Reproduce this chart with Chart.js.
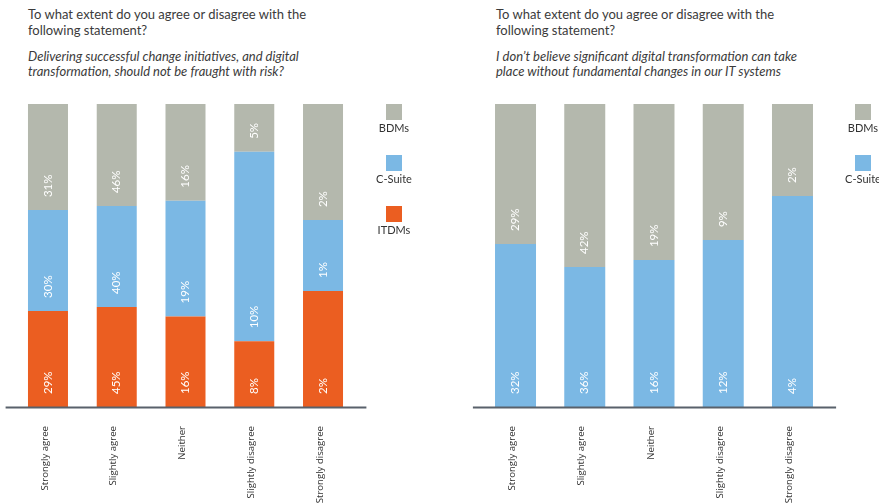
<!DOCTYPE html>
<html>
<head>
<meta charset="utf-8">
<script src="https://cdn.jsdelivr.net/npm/chart.js@4.4.1/dist/chart.umd.min.js"></script>
<style>
body{margin:0;width:879px;height:504px;overflow:hidden;background:#fff;position:relative;font-family:Lato,sans-serif;color:#3b3b3b}
.q{position:absolute;top:7px;font-size:13px;line-height:15.5px;white-space:nowrap}
.q p{margin:0}
.q p.s{margin-top:10.5px;font-style:italic}
canvas{position:absolute;top:0}
.sq{position:absolute;width:16px;height:16px}
.lt{position:absolute;width:60px;text-align:center;font-size:11px;line-height:13px;color:#333}
</style>
</head>
<body>
<div class="q" style="left:28px">
  <p>To what extent do you agree or disagree with the<br>following statement?</p>
  <p class="s">Delivering successful change initiatives, and digital<br>transformation, should not be fraught with risk?</p>
</div>
<div class="q" style="left:496px">
  <p>To what extent do you agree or disagree with the<br>following statement?</p>
  <p class="s">I don’t believe significant digital transformation can take<br>place without fundamental changes in our IT systems</p>
</div>
<canvas id="left" width="440" height="504" style="left:0"></canvas>
<canvas id="right" width="439" height="504" style="left:440px"></canvas>
<div id="legends"></div>
<script>
const categories = ['Strongly agree', 'Slightly agree', 'Neither', 'Slightly disagree', 'Strongly disagree']

// left chart: share of bar height (100% stacked) and printed labels
const leftItdms = [31.7, 33.0, 29.9, 21.7, 38.3]
const leftCsuite = [33.3, 33.3, 38.2, 62.5, 23.4]
const leftBdms = [35.0, 33.7, 31.9, 15.8, 38.3]
const leftItdmsLabels = [29, 45, 16, 8, 2]
const leftCsuiteLabels = [30, 40, 19, 10, 1]
const leftBdmsLabels = [31, 46, 16, 5, 2]

// right chart
const rightCsuite = [53.8, 46.2, 48.5, 55.1, 69.6]
const rightBdms = [46.2, 53.8, 51.5, 44.9, 30.4]
const rightCsuiteLabels = [32, 36, 16, 12, 4]
const rightBdmsLabels = [29, 42, 19, 9, 2]

const gray = '#b4b8ad'
const blue = '#7bb8e4'
const orange = '#eb5e21'

const segLabels = {
  id: 'segLabels',
  afterDatasetsDraw(chart) {
    const ctx = chart.ctx
    ctx.save()
    ctx.font = '11.5px Lato'
    ctx.fillStyle = '#fff'
    ctx.textAlign = 'left'
    ctx.textBaseline = 'middle'
    chart.data.datasets.forEach((ds, i) => {
      chart.getDatasetMeta(i).data.forEach((bar, j) => {
        ctx.save()
        ctx.translate(bar.x, bar.base - 13)
        ctx.rotate(-Math.PI / 2)
        ctx.fillText(ds.labels[j] + '%', 0, 0)
        ctx.restore()
      })
    })
    // axis line
    const a = chart.chartArea
    ctx.strokeStyle = '#59616b'
    ctx.lineWidth = 2
    ctx.beginPath()
    ctx.moveTo(a.left - 8, a.bottom + 0.5)
    ctx.lineTo(a.right + 9, a.bottom + 0.5)
    ctx.stroke()
    ctx.restore()
  }
}

function makeChart(id, datasets, padLeft, padRight, barPct) {
  new Chart(document.getElementById(id), {
    type: 'bar',
    data: { labels: categories, datasets: datasets },
    options: {
      responsive: false,
      animation: false,
      layout: { padding: { top: 104, left: padLeft, right: padRight, bottom: 0 } },
      datasets: { bar: { categoryPercentage: 1, barPercentage: barPct } },
      plugins: { legend: { display: false }, tooltip: { enabled: false } },
      scales: {
        x: {
          stacked: true,
          grid: { display: false },
          border: { display: false },
          ticks: {
            minRotation: 90, maxRotation: 90, padding: 11, autoSkip: false, labelOffset: -3,
            color: '#333', font: { family: 'Open Sans', size: 9.6 }
          },
          afterFit(s) { s.height = 97 }
        },
        y: { stacked: true, min: 0, max: 100, display: false }
      }
    },
    plugins: [segLabels]
  })
}

makeChart('left', [
  { label: 'ITDMs', data: leftItdms, labels: leftItdmsLabels, backgroundColor: orange },
  { label: 'C-Suite', data: leftCsuite, labels: leftCsuiteLabels, backgroundColor: blue },
  { label: 'BDMs', data: leftBdms, labels: leftBdmsLabels, backgroundColor: gray }
], 13.6, 82.6, 40 / 68.75)

makeChart('right', [
  { label: 'C-Suite', data: rightCsuite, labels: rightCsuiteLabels, backgroundColor: blue },
  { label: 'BDMs', data: rightBdms, labels: rightBdmsLabels, backgroundColor: gray }
], 40.9, 51.9, 41 / 69.25)

// legends
const legendNames = ['BDMs', 'C-Suite', 'ITDMs']
const legendColors = [gray, blue, orange]
function addLegend(cx, count) {
  let html = ''
  for (let i = 0; i < count; i++) {
    const top = 104 + i * 51
    html += `<div class="sq" style="left:${cx - 8}px;top:${top}px;background:${legendColors[i]}"></div>`
    html += `<div class="lt" style="left:${cx - 30}px;top:${top + 17}px">${legendNames[i]}</div>`
  }
  document.getElementById('legends').innerHTML += html
}
addLegend(394, 3)
addLegend(863, 2)
</script>
</body>
</html>
